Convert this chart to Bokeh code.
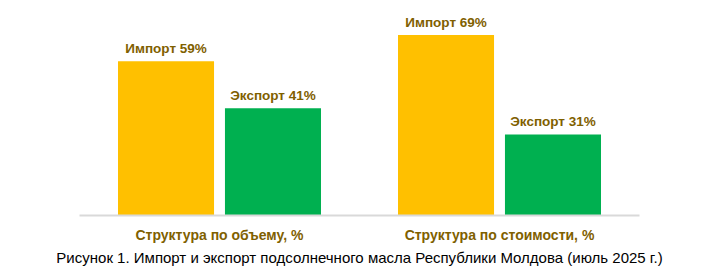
from bokeh.plotting import figure
from bokeh.models import ColumnDataSource, FactorRange, Range1d, LabelSet, Title
from bokeh.transform import dodge
from bokeh.core.properties import value
from bokeh.embed import file_html
from bokeh.resources import INLINE

categories = ["Структура по объему, %", "Структура по стоимости, %"]
import_share = [59, 69]
export_share = [41, 31]
import_name = "Импорт"
export_name = "Экспорт"
caption = "Рисунок 1. Импорт и экспорт подсолнечного масла Республики Молдова (июль 2025 г.)"

IMPORT_COLOR = "#FFC000"
EXPORT_COLOR = "#00B050"
TEXT_COLOR = "#7F6000"
FONT = "Liberation Sans"

source = ColumnDataSource(dict(
    cat=categories,
    imp=import_share,
    exp=export_share,
    imp_label=[f"{import_name} {v}%" for v in import_share],
    exp_label=[f"{export_name} {v}%" for v in export_share],
))

p = figure(
    width=724, height=273,
    x_range=FactorRange(*categories, range_padding=0),
    y_range=Range1d(0, 82.2),
    output_backend="svg", toolbar_location=None,
    min_border_left=79, min_border_right=85, min_border_top=0, min_border_bottom=58,
)

p.vbar(x=dodge("cat", -0.191, range=p.x_range), top="imp", width=0.343,
       source=source, color=IMPORT_COLOR, line_color=None)
p.vbar(x=dodge("cat", 0.191, range=p.x_range), top="exp", width=0.343,
       source=source, color=EXPORT_COLOR, line_color=None)

for col, lab, off in [("imp", "imp_label", -0.191), ("exp", "exp_label", 0.191)]:
    ls = LabelSet(x=dodge("cat", off, range=p.x_range), y=col, text=lab, source=source,
                  text_align="center", text_baseline="alphabetic", y_offset=8,
                  text_font=value(FONT), text_font_size="13.5px", text_font_style="bold",
                  text_color=TEXT_COLOR)
    p.add_layout(ls)

p.yaxis.visible = False
p.xgrid.visible = False
p.ygrid.visible = False
p.outline_line_color = None
p.background_fill_color = "white"
p.border_fill_color = "white"

ax = p.xaxis[0]
ax.axis_line_color = "#D9D9D9"
ax.axis_line_width = 2
ax.major_tick_line_color = None
ax.minor_tick_line_color = None
ax.major_label_standoff = 5
ax.major_label_text_font = FONT
ax.major_label_text_font_size = "14px"
ax.major_label_text_font_style = "bold"
ax.major_label_text_color = TEXT_COLOR

p.add_layout(Title(text=caption, align="center", text_font=FONT, text_font_size="15px",
                   text_font_style="normal", text_color="black", standoff=2, offset=3), "below")

open("out.html", "w").write(file_html(p, INLINE))
